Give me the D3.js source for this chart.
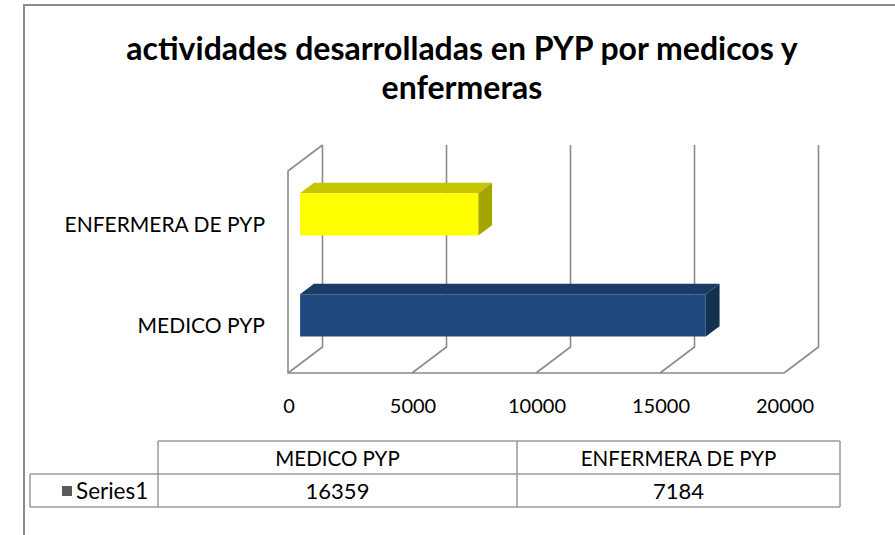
<!DOCTYPE html>
<html>
<head>
<meta charset="utf-8">
<script src="https://cdn.jsdelivr.net/npm/d3@7"></script>
<style>
  body { margin: 0; background: #fff; }
  svg text { font-family: Lato, "Open Sans", sans-serif; fill: #000; }
</style>
</head>
<body>
<div id="chart"></div>
<script>
// chart data
var titleLines = ["actividades desarrolladas en PYP por medicos y", "enfermeras"];
var categories = ["MEDICO PYP", "ENFERMERA DE PYP"];
var values = [16359, 7184];
var barColors = ["#1f497d", "#ffff00"];
var topColors = ["#193b66", "#c6c600"];
var sideColors = ["#14304f", "#a5a500"];
var xTicks = [0, 5000, 10000, 15000, 20000];
var seriesName = "Series1";

var width = 895, height = 535;

var svg = d3.select("#chart").append("svg")
  .attr("width", width)
  .attr("height", height);

// outer frame (only left and top edges are visible in the crop)
svg.append("path")
  .attr("d", "M24,535 L24,5 L895,5")
  .attr("fill", "none")
  .attr("stroke", "#8a8a8a")
  .attr("stroke-width", 2);

// title
svg.append("g").selectAll("text")
  .data(titleLines)
  .enter().append("text")
  .attr("x", 462)
  .attr("y", function(d, i) { return 60 + i * 39; })
  .attr("text-anchor", "middle")
  .attr("font-size", 32)
  .attr("font-weight", "bold")
  .text(function(d) { return d; });

// 3d plot geometry: front plane scales plus a depth offset
var depthX = 34.5, depthY = -26;
var x = d3.scaleLinear().domain([0, 20000]).range([288, 784]);
var plotTop = 171, plotBottom = 373;
// bars listed top to bottom
var y = d3.scaleBand()
  .domain(categories.slice().reverse())
  .range([plotTop + 2, plotBottom + 2])
  .paddingInner(0.58)
  .paddingOuter(0.29);

function proj(v, yy, t) {
  return [x(v) + depthX * t, yy + depthY * t];
}
function poly(pts) {
  return "M" + pts.map(function(p) { return p[0] + "," + p[1]; }).join("L") + "Z";
}

var grid = svg.append("g")
  .attr("fill", "none")
  .attr("stroke", "#8c8c8c")
  .attr("stroke-width", 1.6);

// back wall gridlines folding down to the floor
xTicks.forEach(function(v) {
  var a = proj(v, plotTop, 1), b = proj(v, plotBottom, 1), c = proj(v, plotBottom, 0);
  grid.append("path").attr("d", "M" + a + "L" + b + "L" + c);
});
// left side wall and front floor edge
var lw1 = proj(0, plotTop, 1), lw0 = proj(0, plotTop, 0), lb0 = proj(0, plotBottom, 0), rb0 = proj(20000, plotBottom, 0);
grid.append("path").attr("d", "M" + lw1 + "L" + lw0 + "L" + lb0 + "L" + rb0);

// bars
var t1 = 0.35, t2 = 0.75;
var bars = svg.append("g").selectAll("g")
  .data(categories)
  .enter().append("g");

bars.append("path")
  .attr("fill", function(d, i) { return topColors[i]; })
  .attr("d", function(d, i) {
    var y0 = y(d);
    return poly([proj(0, y0, t1), proj(values[i], y0, t1), proj(values[i], y0, t2), proj(0, y0, t2)]);
  });
bars.append("path")
  .attr("fill", function(d, i) { return sideColors[i]; })
  .attr("d", function(d, i) {
    var y0 = y(d), y1 = y(d) + y.bandwidth();
    return poly([proj(values[i], y0, t1), proj(values[i], y0, t2), proj(values[i], y1, t2), proj(values[i], y1, t1)]);
  });
bars.append("path")
  .attr("fill", function(d, i) { return barColors[i]; })
  .attr("d", function(d, i) {
    var y0 = y(d), y1 = y(d) + y.bandwidth();
    return poly([proj(0, y0, t1), proj(values[i], y0, t1), proj(values[i], y1, t1), proj(0, y1, t1)]);
  });

// category labels
svg.append("g").selectAll("text")
  .data(categories)
  .enter().append("text")
  .attr("x", 265)
  .attr("y", function(d) { return y(d) + y.bandwidth() / 2 + 8; })
  .attr("text-anchor", "end")
  .attr("font-size", 21)
  .text(function(d) { return d; });

// value axis labels
svg.append("g").selectAll("text")
  .data(xTicks)
  .enter().append("text")
  .attr("x", function(d) { return x(d) + 1; })
  .attr("y", 413)
  .attr("text-anchor", "middle")
  .attr("font-size", 20)
  .text(function(d) { return d; });

// data table
var tbl = svg.append("g");
var colX = [158, 517, 840];
var rowY = [441, 474, 507];
var line = tbl.append("g").attr("stroke", "#9a9a9a").attr("stroke-width", 1.5).attr("fill", "none");
line.append("path").attr("d", "M158,441 L840,441 M30,474 L840,474 M30,507 L840,507 M30,474 L30,507");
colX.forEach(function(cx) {
  line.append("path").attr("d", "M" + cx + "," + rowY[0] + " L" + cx + "," + rowY[2]);
});

tbl.selectAll(".hdr")
  .data(categories)
  .enter().append("text")
  .attr("class", "hdr")
  .attr("x", function(d, i) { return (colX[i] + colX[i + 1]) / 2; })
  .attr("y", 466)
  .attr("text-anchor", "middle")
  .attr("font-size", 20.5)
  .text(function(d) { return d; });

tbl.selectAll(".val")
  .data(values)
  .enter().append("text")
  .attr("class", "val")
  .attr("x", function(d, i) { return (colX[i] + colX[i + 1]) / 2; })
  .attr("y", 499)
  .attr("text-anchor", "middle")
  .attr("font-size", 22)
  .text(function(d) { return d; });

tbl.append("rect")
  .attr("x", 62).attr("y", 486).attr("width", 10).attr("height", 10)
  .attr("fill", "#595959");
tbl.append("text")
  .attr("x", 76).attr("y", 499)
  .attr("font-size", 22.5)
  .text(seriesName);
</script>
</body>
</html>
